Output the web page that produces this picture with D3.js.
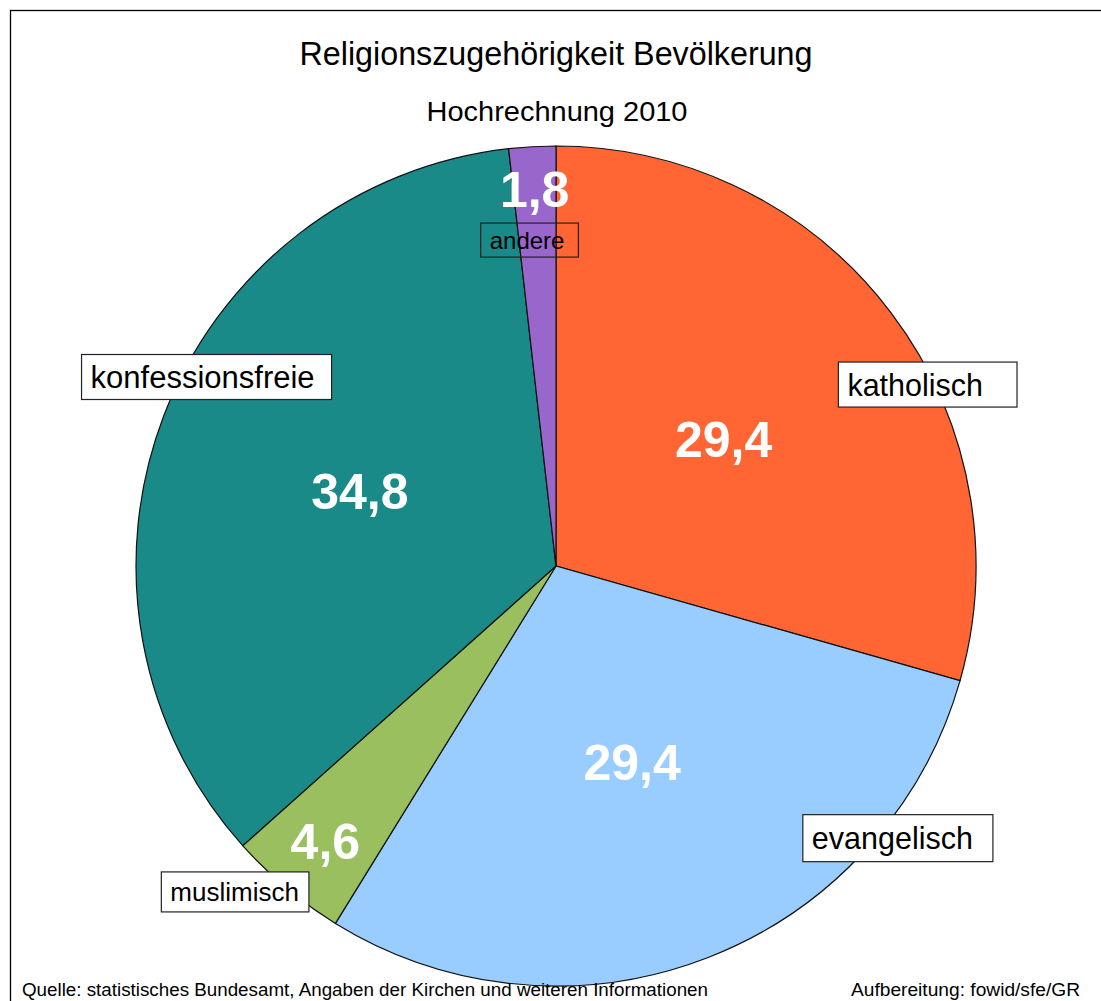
<!DOCTYPE html>
<html>
<head>
<meta charset="utf-8">
<script src="https://cdn.jsdelivr.net/npm/d3@7"></script>
<style>
  body { margin: 0; background: #fff; }
  text { font-family: "Liberation Sans", Arial, sans-serif; }
</style>
</head>
<body>
<svg id="chart" width="1101" height="1001"></svg>
<script>
// data
const categories = ['katholisch', 'evangelisch', 'muslimisch', 'konfessionsfreie', 'andere']
const values = [29.4, 29.4, 4.6, 34.8, 1.8]
const colors = ['#FF6633', '#99CCFF', '#99BF5F', '#198A88', '#9966CC']

// label layout (relative to pie radius), kept apart from the data
const valueRadius = [0.5, 0.5, 0.855, 0.5, 0.9]
const boxCenter = [[0.885, -0.432], [0.814, 0.648], [-0.764, 0.776], [-0.832, -0.45], [-0.063, -0.776]]
const boxFont = [30.5, 30.5, 26, 31, 24]
const boxHeight = [45, 47, 40, 45, 34]
const boxPadRight = [34, 20, 10, 17, 14]
const boxFill = ['#fff', '#fff', '#fff', '#fff', 'none']

const cx = 556
const cy = 566
const r = 420

const svg = d3.select('#chart')

// frame
svg.append('rect')
  .attr('x', 10.5).attr('y', 10.5)
  .attr('width', 1200).attr('height', 1200)
  .attr('fill', 'none')
  .attr('stroke', '#000')
  .attr('stroke-width', 1.3)

// ------------------
// Titles
// ------------------
svg.append('text')
  .attr('x', 556).attr('y', 65)
  .attr('text-anchor', 'middle')
  .attr('font-size', 34)
  .attr('textLength', 513)
  .attr('lengthAdjust', 'spacingAndGlyphs')
  .text('Religionszugehörigkeit Bevölkerung')

svg.append('text')
  .attr('x', 557).attr('y', 121)
  .attr('text-anchor', 'middle')
  .attr('font-size', 28)
  .attr('textLength', 261)
  .attr('lengthAdjust', 'spacingAndGlyphs')
  .text('Hochrechnung 2010')

// ------------------
// Pie
// ------------------
const slices = categories.map((c, i) => ({ name: c, value: values[i], i }))

const pie = d3.pie()
  .sort(null)
  .value(d => d.value)

const arc = d3.arc().innerRadius(0).outerRadius(r)

const g = svg.append('g')
  .attr('transform', `translate(${cx},${cy})`)

const arcs = pie(slices)

g.selectAll('path')
  .data(arcs)
  .enter()
  .append('path')
  .attr('d', arc)
  .attr('fill', d => colors[d.data.i])
  .attr('stroke', '#111')
  .attr('stroke-width', 1.2)

// value labels
g.selectAll('text.val')
  .data(arcs)
  .enter()
  .append('text')
  .attr('class', 'val')
  .attr('transform', d => {
    const a = (d.startAngle + d.endAngle) / 2
    const rr = r * valueRadius[d.data.i]
    return `translate(${Math.sin(a) * rr},${-Math.cos(a) * rr})`
  })
  .attr('dy', '0.36em')
  .attr('text-anchor', 'middle')
  .attr('font-size', 50)
  .attr('font-weight', 'bold')
  .attr('fill', '#fff')
  .text(d => String(d.data.value).replace('.', ','))

// category boxes
arcs.forEach(d => {
  const i = d.data.i
  const bx = boxCenter[i][0] * r
  const by = boxCenter[i][1] * r
  const lg = g.append('g')
  const rect = lg.append('rect')
  const t = lg.append('text')
    .attr('font-size', boxFont[i])
    .attr('fill', '#000')
    .text(d.data.name)
  const bb = t.node().getBBox()
  const w = bb.width + 9 + boxPadRight[i]
  const h = boxHeight[i]
  const x0 = bx - w / 2
  const y0 = by - h / 2
  rect.attr('x', x0).attr('y', y0)
    .attr('width', w).attr('height', h)
    .attr('fill', boxFill[i])
    .attr('stroke', '#222')
    .attr('stroke-width', 1.2)
  t.attr('x', x0 + 9)
    .attr('y', by + boxFont[i] * 0.36)
})

// ------------------
// Footer
// ------------------
svg.append('text')
  .attr('x', 22).attr('y', 996)
  .attr('font-size', 17.5)
  .attr('textLength', 686)
  .attr('lengthAdjust', 'spacingAndGlyphs')
  .text('Quelle: statistisches Bundesamt, Angaben der Kirchen und weiteren Informationen')

svg.append('text')
  .attr('x', 851).attr('y', 996)
  .attr('font-size', 17.5)
  .attr('textLength', 229)
  .attr('lengthAdjust', 'spacingAndGlyphs')
  .text('Aufbereitung: fowid/sfe/GR')
</script>
</body>
</html>
